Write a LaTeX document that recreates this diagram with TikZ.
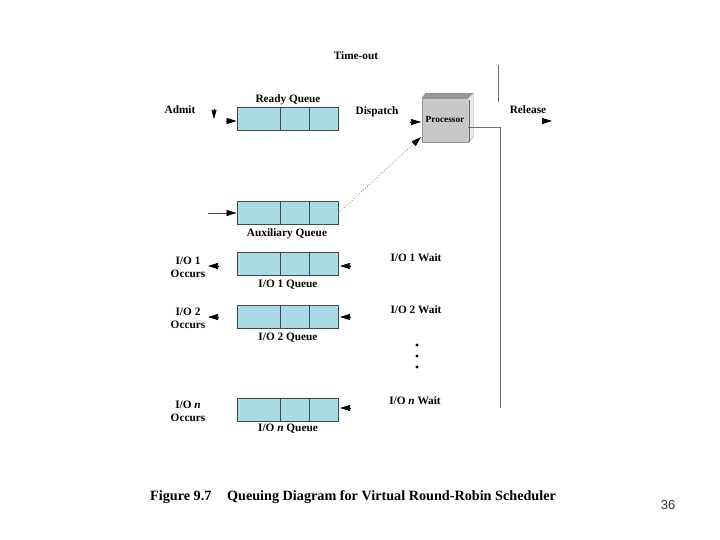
\documentclass[tikz,border=0pt]{standalone}
\usepackage{fontspec}
\setmainfont{Liberation Serif}
\setsansfont{Liberation Sans}
\usetikzlibrary{arrows.meta,calc}
\definecolor{qfill}{RGB}{170,218,230}
\definecolor{qline}{RGB}{60,75,82}
\definecolor{procF}{RGB}{200,200,200}
\definecolor{procT}{RGB}{150,150,150}
\definecolor{procR}{RGB}{232,232,232}
\definecolor{wire}{RGB}{110,110,110}
\tikzset{
  lbl/.style={inner sep=0pt, font=\fontsize{11.3}{13}\selectfont\bfseries, align=center},
  queue/.style={draw=qline, line width=0.9pt, fill=qfill, minimum width=101pt, minimum height=23pt, inner sep=0pt,
    path picture={
      \draw[qline, line width=0.9pt] ([xshift=43pt]path picture bounding box.south west) -- ([xshift=43pt]path picture bounding box.north west);
      \draw[qline, line width=0.9pt] ([xshift=72pt]path picture bounding box.south west) -- ([xshift=72pt]path picture bounding box.north west);
    }},
  head/.style={-{Triangle[length=10pt,width=6pt,color=black]}, line width=0.6pt},
  smallhead/.style={-{Triangle[length=9pt,width=5pt,color=black]}, line width=0.6pt},
  wireline/.style={draw=wire, line width=0.8pt},
}
\begin{document}
\begin{tikzpicture}[x=1pt,y=-1pt]
\useasboundingbox (0,0) rectangle (720,540);

% queues
\node[queue] (rq) at (287.5,119) {};
\node[queue] (aq) at (287.5,213) {};
\node[queue] (q1) at (287.5,264) {};
\node[queue] (q2) at (287.5,317) {};
\node[queue] (qn) at (287.5,410) {};

% processor cube
\node[fill=procF, draw=procT, line width=0.4pt, minimum width=46pt, minimum height=44pt, inner sep=0pt,
      font=\fontsize{9.3}{10}\selectfont\bfseries] (proc) at (445,120) {Processor};
\fill[procT] (proc.north west) -- (proc.north east) -- ($(proc.north east)+(5,-5)$) -- ($(proc.north west)+(4,-5)$) -- cycle;
\filldraw[fill=procR, draw=procT, line width=0.4pt] (proc.north east) -- ($(proc.north east)+(5,-5)$) -- ($(proc.south east)+(5,-5)$) -- (proc.south east) -- cycle;
\draw[procT!70!black, line width=0.8pt] ($(proc.north east)+(1,2)$) -- ($(proc.south east)+(1,0)$);

% labels
\node[lbl] (timeout) at (356,56) {Time-out};
\node[lbl] (admit) at (180,110) {Admit};
\node[lbl] (rql) at (288,100) {Ready Queue};
\node[lbl] (disp) at (377,112) {Dispatch};
\node[lbl] (rel) at (528,110) {Release};
\node[lbl] (aql) at (287,234) {Auxiliary Queue};
\node[lbl] (o1) at (188,267) {I/O 1\\Occurs};
\node[lbl] (q1l) at (288,285) {I/O 1 Queue};
\node[lbl] (w1) at (416,258) {I/O 1 Wait};
\node[lbl] (o2) at (188,318) {I/O 2\\Occurs};
\node[lbl] (q2l) at (288,338) {I/O 2 Queue};
\node[lbl] (w2) at (416,310) {I/O 2 Wait};
\node[lbl] (on) at (188,411) {I/O \textit{n}\\Occurs};
\node[lbl] (qnl) at (288,429) {I/O \textit{n} Queue};
\node[lbl] (wn) at (415,401) {I/O \textit{n} Wait};

% dots
\foreach \yy in {345,356,367} \fill (417,\yy) circle (1.6pt);

% right-hand wires
\coordinate (t1) at (498,65);
\coordinate (t2) at (498,102);
\coordinate (pe) at ([yshift=-7pt]proc.east);
\coordinate (bot) at (500,408);
\draw[wireline] (t1) -- (t2);
\draw[wireline] (pe) -| (bot);

% arrowheads
\coordinate (ad1) at (214,109); \coordinate (ad2) at (214,119);
\draw[smallhead] (ad1) -- (ad2);
\coordinate (ar1) at (226,121);
\draw[head] (ar1) -- (rq.west |- ar1);
\coordinate (dp1) at (410,122); \coordinate (dp2) at (421,122);
\draw[head] (dp1) -- (dp2);
\coordinate (rl1) at (542,121); \coordinate (rl2) at (552,121);
\draw[head] (rl1) -- (rl2);
\coordinate (dt) at (421,137);
\draw[head, wire, dotted, line width=0.8pt] (aq.east) -- (dt);
\coordinate (ain) at (208,213);
\draw[head, draw=black!70] (ain) -- (aq.west);

\coordinate (o1a) at (218,266); \coordinate (o1b) at (208,266);
\draw[head] (o1a) -- (o1b);
\coordinate (w1a) at (350,266); \coordinate (w1b) at (340,266);
\draw[head] (w1a) -- (w1b);
\coordinate (o2a) at (218,317); \coordinate (o2b) at (208,317);
\draw[head] (o2a) -- (o2b);
\coordinate (w2a) at (350,317); \coordinate (w2b) at (340,317);
\draw[head] (w2a) -- (w2b);
\coordinate (wna) at (350,408); \coordinate (wnb) at (340,408);
\draw[head] (wna) -- (wnb);

% caption
\node[inner sep=0pt, anchor=west, font=\fontsize{14.2}{16}\selectfont\bfseries] (cap) at (150,497) {Figure 9.7\hspace{1.1em}Queuing Diagram for Virtual Round-Robin Scheduler};
\node[inner sep=0pt, font=\sffamily\fontsize{13}{15}\selectfont, text=black!80] (pg) at (668,505) {36};
\end{tikzpicture}
\end{document}
